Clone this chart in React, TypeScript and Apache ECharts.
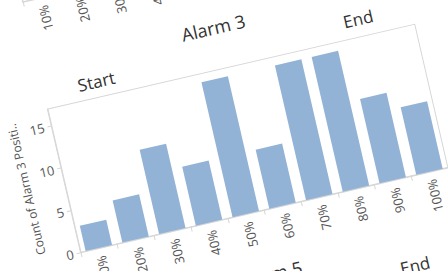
import React, { useEffect, useRef } from "react";
import * as echarts from "echarts";

const categories = ["10%", "20%", "30%", "40%", "50%", "60%", "70%", "80%", "90%", "100%"];
const alarm3Counts = [3, 5, 10, 7, 16, 7, 16, 16, 10, 8];
const yTicks = [0, 5, 10, 15];
const yMax = 17;
const titleMain = "Alarm 3";
const titleNext = "Alarm 5";
const yAxisName = "Count of Alarm 3 Positi..";

const FONT = "'Open Sans', 'Noto Sans', sans-serif";
const AXIS_COLOR = "#d6d6d6";
const LABEL_COLOR = "#555";
const TITLE_COLOR = "#333";
const BAR_COLOR = "#92b3d6";

export default function App() {
  const ref = useRef<HTMLDivElement | null>(null);

  useEffect(() => {
    if (!ref.current) return;
    const chart = echarts.init(ref.current, undefined, { renderer: "svg" });
    const xLabel = {
      rotate: 90,
      fontSize: 13,
      color: LABEL_COLOR,
      fontFamily: FONT,
      margin: 8,
      padding: [8, 0, 0, 0],
    };
    chart.setOption({
      animation: false,
      grid: [
        {
          left: 78,
          top: 150,
          width: 377,
          height: 147,
          show: true,
          borderColor: AXIS_COLOR,
          borderWidth: 1,
        },
        {
          left: 78,
          top: -107,
          width: 377,
          height: 147,
          show: true,
          borderColor: AXIS_COLOR,
          borderWidth: 1,
        },
      ],
      xAxis: [
        {
          type: "category",
          gridIndex: 0,
          data: categories,
          axisLine: { lineStyle: { color: AXIS_COLOR } },
          axisTick: { show: true, length: 5, lineStyle: { color: AXIS_COLOR } },
          axisLabel: xLabel,
        },
        {
          type: "category",
          gridIndex: 1,
          data: categories,
          axisLine: { lineStyle: { color: AXIS_COLOR } },
          axisTick: { show: true, length: 5, lineStyle: { color: AXIS_COLOR } },
          axisLabel: xLabel,
        },
      ],
      yAxis: [
        {
          type: "value",
          gridIndex: 0,
          min: 0,
          max: yMax,
          interval: 5,
          name: yAxisName,
          nameLocation: "middle",
          nameGap: 27,
          nameTextStyle: { fontSize: 12, color: LABEL_COLOR, fontFamily: FONT },
          axisLine: { show: true, lineStyle: { color: AXIS_COLOR } },
          axisTick: { show: true, length: 4, lineStyle: { color: AXIS_COLOR }, customValues: yTicks },
          axisLabel: { fontSize: 13, color: LABEL_COLOR, fontFamily: FONT, margin: 7, customValues: yTicks },
          splitLine: { show: false },
        },
        {
          type: "value",
          gridIndex: 1,
          min: 0,
          max: yMax,
          interval: 5,
          axisLine: { show: true, lineStyle: { color: AXIS_COLOR } },
          axisTick: { show: false },
          axisLabel: { show: false },
          splitLine: { show: false },
        },
      ],
      series: [
        {
          type: "bar",
          xAxisIndex: 0,
          yAxisIndex: 0,
          data: alarm3Counts,
          barCategoryGap: "28%",
          itemStyle: { color: BAR_COLOR },
        },
      ],
      graphic: [
        {
          type: "text",
          x: 258,
          y: 108,
          style: { text: titleMain, fontSize: 18, fontFamily: FONT, fill: TITLE_COLOR, align: "center", verticalAlign: "middle" },
        },
        {
          type: "text",
          x: 113,
          y: 134,
          style: { text: "Start", fontSize: 17, fontFamily: FONT, fill: TITLE_COLOR, align: "left", verticalAlign: "middle" },
        },
        {
          type: "text",
          x: 401,
          y: 132,
          style: { text: "End", fontSize: 17, fontFamily: FONT, fill: TITLE_COLOR, align: "center", verticalAlign: "middle" },
        },
        {
          type: "text",
          x: 258,
          y: 361,
          style: { text: titleNext, fontSize: 18, fontFamily: FONT, fill: TITLE_COLOR, align: "center", verticalAlign: "middle" },
        },
        {
          type: "text",
          x: 401,
          y: 385,
          style: { text: "End", fontSize: 17, fontFamily: FONT, fill: TITLE_COLOR, align: "center", verticalAlign: "middle" },
        },
      ],
    });
    return () => chart.dispose();
  }, []);

  return (
    <div
      style={{
        position: "fixed",
        left: 0,
        top: 0,
        width: 448,
        height: 271,
        overflow: "hidden",
        background: "#fff",
      }}
    >
      <div
        ref={ref}
        style={{
          position: "absolute",
          left: -20,
          top: -80,
          width: 488,
          height: 432,
          transform: "rotate(-13deg)",
          transformOrigin: "244px 216px",
        }}
      />
    </div>
  );
}
